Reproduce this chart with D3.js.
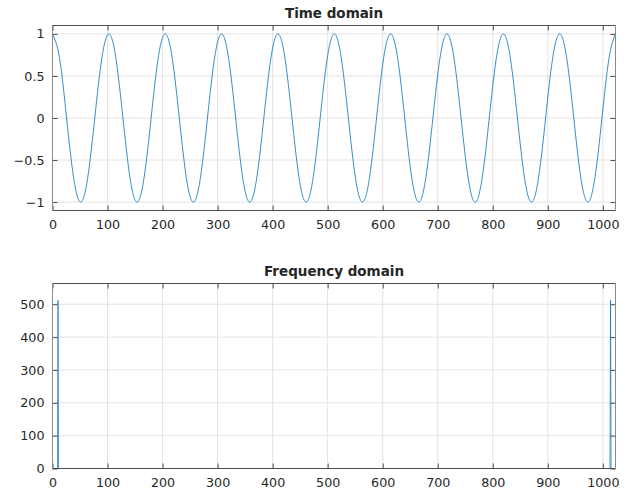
<!DOCTYPE html>
<html>
<head>
<meta charset="utf-8">
<script src="https://cdn.jsdelivr.net/npm/d3@7"></script>
<style>
  html, body { margin: 0; padding: 0; background: #fff; }
  svg { display: block; }
  text { font-family: "DejaVu Sans", sans-serif; fill: #262626; }
</style>
</head>
<body>
<svg id="chart" width="630" height="492"></svg>
<script>
// ---- Data ----
const timeX = [0, 12.8, 25.6, 38.4, 51.2, 64, 76.8, 89.6, 102.4, 115.2, 128, 140.8, 153.6, 166.4, 179.2, 192,
  204.8, 217.6, 230.4, 243.2, 256, 268.8, 281.6, 294.4, 307.2, 320, 332.8, 345.6, 358.4, 371.2, 384, 396.8,
  409.6, 422.4, 435.2, 448, 460.8, 473.6, 486.4, 499.2, 512, 524.8, 537.6, 550.4, 563.2, 576, 588.8, 601.6,
  614.4, 627.2, 640, 652.8, 665.6, 678.4, 691.2, 704, 716.8, 729.6, 742.4, 755.2, 768, 780.8, 793.6, 806.4,
  819.2, 832, 844.8, 857.6, 870.4, 883.2, 896, 908.8, 921.6, 934.4, 947.2, 960, 972.8, 985.6, 998.4, 1011.2, 1023];
const timeY = [1, 0.71, 0, -0.71, -1, -0.71, 0, 0.71, 1, 0.71, 0, -0.71, -1, -0.71, 0, 0.71,
  1, 0.71, 0, -0.71, -1, -0.71, 0, 0.71, 1, 0.71, 0, -0.71, -1, -0.71, 0, 0.71,
  1, 0.71, 0, -0.71, -1, -0.71, 0, 0.71, 1, 0.71, 0, -0.71, -1, -0.71, 0, 0.71,
  1, 0.71, 0, -0.71, -1, -0.71, 0, 0.71, 1, 0.71, 0, -0.71, -1, -0.71, 0, 0.71,
  1, 0.71, 0, -0.71, -1, -0.71, 0, 0.71, 1, 0.71, 0, -0.71, -1, -0.71, 0, 0.71, 1];
const freqX = [0, 9, 10, 11, 1013, 1014, 1015, 1023];
const freqY = [0, 0, 512, 0, 0, 512, 0, 0];
const xTicks = [0, 100, 200, 300, 400, 500, 600, 700, 800, 900, 1000];
const timeYTicks = [-1, -0.5, 0, 0.5, 1];
const freqYTicks = [0, 100, 200, 300, 400, 500];
const xDomain = [0, 1023];
const timeYDomain = [-1.1, 1.1];
const freqYDomain = [0, 563.2];
const titles = ["Time domain", "Frequency domain"];

// ---- Layout ----
const svg = d3.select("#chart");
const left = 52.5, right = 615.5;
const panels = [
  { top: 25.5, bottom: 210.5, xs: timeX, ys: timeY, yDomain: timeYDomain, yTicks: timeYTicks, title: titles[0], curve: d3.curveNatural, fmt: d3.format(""), sw: 0.8 },
  { top: 283.5, bottom: 468.5, xs: freqX, ys: freqY, yDomain: freqYDomain, yTicks: freqYTicks, title: titles[1], curve: d3.curveLinear, fmt: d3.format("d"), sw: 0.7 }
];
const tickLen = 5;

panels.forEach(p => {
  const x = d3.scaleLinear().domain(xDomain).range([left, right]);
  const y = d3.scaleLinear().domain(p.yDomain).range([p.bottom, p.top]);
  const g = svg.append("g");

  // grid
  g.append("g").selectAll("line").data(xTicks).join("line")
    .attr("x1", d => x(d)).attr("x2", d => x(d)).attr("y1", p.top).attr("y2", p.bottom)
    .attr("stroke", "#e3e3e3").attr("stroke-width", 1);
  g.append("g").selectAll("line").data(p.yTicks).join("line")
    .attr("x1", left).attr("x2", right).attr("y1", d => y(d)).attr("y2", d => y(d))
    .attr("stroke", "#e3e3e3").attr("stroke-width", 1);

  // data line
  const line = d3.line().x((d, i) => x(p.xs[i])).y(d => y(d)).curve(p.curve);
  const clipId = "clip" + Math.round(p.top);
  svg.append("clipPath").attr("id", clipId).append("rect")
    .attr("x", left).attr("y", p.top - 1).attr("width", right - left).attr("height", p.bottom - p.top + 2);
  g.append("path").datum(p.ys).attr("d", line)
    .attr("fill", "none").attr("stroke", "#0072BD").attr("stroke-width", p.sw)
    .attr("clip-path", `url(#${clipId})`);

  // axes (ticks inward on all four sides)
  const axB = d3.axisBottom(x).tickValues(xTicks).tickSize(-tickLen).tickPadding(9).tickFormat(d3.format("d"));
  const axT = d3.axisTop(x).tickValues(xTicks).tickSize(-tickLen).tickFormat("");
  const axL = d3.axisLeft(y).tickValues(p.yTicks).tickSize(-tickLen).tickPadding(8).tickFormat(p.fmt);
  const axR = d3.axisRight(y).tickValues(p.yTicks).tickSize(-tickLen).tickFormat("");

  const style = (sel, col) => {
    sel.select(".domain").remove();
    sel.selectAll(".tick line").attr("stroke", col).attr("stroke-width", 1);
    sel.selectAll("text").attr("font-size", "12.7px").attr("fill", "#262626")
      .attr("font-family", "DejaVu Sans, sans-serif");
  };
  g.append("g").attr("transform", `translate(0,${p.bottom})`).call(axB).call(s => style(s, "#4d4d4d"));
  g.append("g").attr("transform", `translate(0,${p.top})`).call(axT).call(s => style(s, "#4d4d4d"));
  g.append("g").attr("transform", `translate(${left},0)`).call(axL).call(s => style(s, "#4d4d4d"));
  g.append("g").attr("transform", `translate(${right},0)`).call(axR).call(s => style(s, "#4d4d4d"));

  // box
  g.append("line").attr("x1", left).attr("x2", right).attr("y1", p.top).attr("y2", p.top).attr("stroke", "#4d4d4d");
  g.append("line").attr("x1", left).attr("x2", right).attr("y1", p.bottom).attr("y2", p.bottom).attr("stroke", "#4d4d4d");
  g.append("line").attr("x1", left).attr("x2", left).attr("y1", p.top).attr("y2", p.bottom).attr("stroke", "#8a8a8a");
  g.append("line").attr("x1", right).attr("x2", right).attr("y1", p.top).attr("y2", p.bottom).attr("stroke", "#8a8a8a");

  // title
  g.append("text").attr("x", (left + right) / 2).attr("y", p.top - 7.5)
    .attr("text-anchor", "middle").attr("font-weight", "bold").attr("font-size", "13.5px")
    .attr("fill", "#000").text(p.title);
});
</script>
</body>
</html>
